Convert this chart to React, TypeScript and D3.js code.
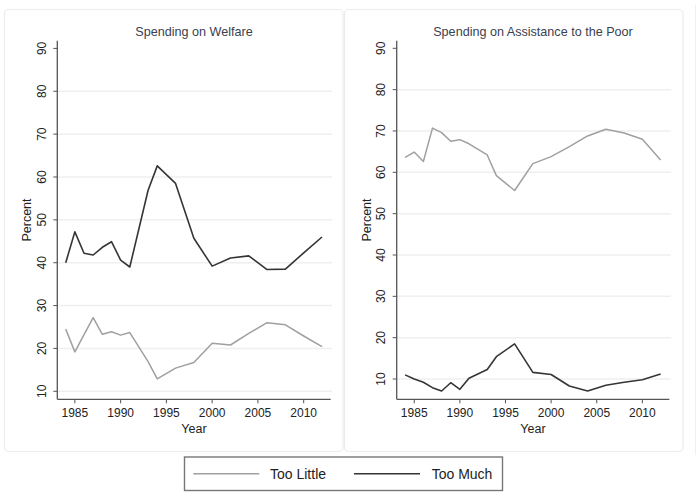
import React from "react";
import * as d3 from "d3";

const years = [1984, 1985, 1986, 1987, 1988, 1989, 1990, 1991, 1993, 1994, 1996, 1998, 2000, 2002, 2004, 2006, 2008, 2010, 2012];

const welfareTooLittle = [24.5, 19.2, 23.2, 27.2, 23.3, 23.9, 23.1, 23.7, 16.9, 12.9, 15.4, 16.7, 21.2, 20.8, 23.5, 26.0, 25.5, 22.9, 20.4];
const welfareTooMuch = [40.0, 47.2, 42.2, 41.8, 43.6, 44.9, 40.6, 39.0, 56.9, 62.6, 58.5, 45.7, 39.2, 41.1, 41.6, 38.4, 38.5, 42.3, 46.0];

const poorTooLittle = [63.6, 64.9, 62.6, 70.7, 69.6, 67.5, 67.9, 66.9, 64.2, 59.2, 55.6, 62.1, 63.8, 66.2, 68.8, 70.4, 69.5, 68.0, 63.0];
const poorTooMuch = [11.0, 10.0, 9.2, 7.9, 7.1, 9.1, 7.5, 10.2, 12.3, 15.4, 18.5, 11.6, 11.1, 8.3, 7.1, 8.5, 9.2, 9.8, 11.2];

const yTicks = [10, 20, 30, 40, 50, 60, 70, 80, 90];
const gridTicks = [10, 20, 30, 40, 50, 60, 70, 80];
const xTicks = [1985, 1990, 1995, 2000, 2005, 2010];
const legendLabels = ["Too Little", "Too Much"];
const titles = ["Spending on Welfare", "Spending on Assistance to the Poor"];

const LIGHT = "#a0a0a0";
const DARK = "#353535";
const FONT = "'Liberation Sans', Arial, Helvetica, sans-serif";

type PanelProps = {
  title: string;
  x0: number;
  x1: number;
  yDomain: [number, number];
  little: number[];
  much: number[];
  frameX: number;
};

function Panel({ title, x0, x1, yDomain, little, much, frameX }: PanelProps) {
  const x = d3.scaleLinear().domain([1983.08, 2012.95]).range([x0, x1]);
  const y = d3.scaleLinear().domain(yDomain).range([399.3, 40.7]);
  const line = d3
    .line<number>()
    .x((_, i) => x(years[i]))
    .y((d) => y(d));
  const [ya, yb] = y.range();
  const mid = (x0 + x1) / 2;
  return (
    <g>
      <rect x={frameX} y={9.5} width={338.5} height={442} rx={4} fill="#ffffff" stroke="#ececec" strokeWidth={1.2} />
      {gridTicks.map((t) => (
        <line key={"g" + t} x1={x0} x2={x1 + 1.5} y1={y(t)} y2={y(t)} stroke="#efefef" strokeWidth={1.5} />
      ))}
      <text x={mid} y={31.7} textAnchor="middle" dominantBaseline="central" fontFamily={FONT} fontSize={12.6} fill="#3a4150">
        {title}
      </text>
      {/* y axis */}
      <line x1={x0} x2={x0} y1={ya} y2={yb} stroke="#555" strokeWidth={1.3} />
      {yTicks.map((t) => (
        <g key={"y" + t}>
          <line x1={x0 - 4} x2={x0} y1={y(t)} y2={y(t)} stroke="#555" strokeWidth={1} />
          <text
            transform={`translate(${x0 - 15.5},${y(t)}) rotate(-90)`}
            textAnchor="middle"
            dominantBaseline="central"
            fontFamily={FONT}
            fontSize={12}
            fill="#222"
          >
            {t}
          </text>
        </g>
      ))}
      <text
        transform={`translate(${x0 - 30},${(ya + yb) / 2}) rotate(-90)`}
        textAnchor="middle"
        dominantBaseline="central"
        fontFamily={FONT}
        fontSize={12.5}
        fill="#222"
      >
        Percent
      </text>
      {/* x axis */}
      <line x1={x0} x2={x1} y1={ya} y2={ya} stroke="#555" strokeWidth={1.3} />
      {xTicks.map((t) => (
        <g key={"x" + t}>
          <line x1={x(t)} x2={x(t)} y1={ya} y2={ya + 4} stroke="#555" strokeWidth={1} />
          <text x={x(t)} y={413} textAnchor="middle" dominantBaseline="central" fontFamily={FONT} fontSize={12} fill="#222">
            {t}
          </text>
        </g>
      ))}
      <text x={mid} y={429} textAnchor="middle" dominantBaseline="central" fontFamily={FONT} fontSize={12.5} fill="#222">
        Year
      </text>
      <path d={line(little) || ""} fill="none" stroke={LIGHT} strokeWidth={1.5} strokeLinejoin="round" />
      <path d={line(much) || ""} fill="none" stroke={DARK} strokeWidth={1.6} strokeLinejoin="round" />
    </g>
  );
}

export default function App() {
  return (
    <svg
      width={699}
      height={498}
      style={{ position: "absolute", left: 0, top: 0, background: "#fff" }}
    >
      <rect x={0} y={0} width={699} height={498} fill="#fff" />
      <Panel title={titles[0]} x0={57.3} x1={330.7} yDomain={[8.13, 91.8]} little={welfareTooLittle} much={welfareTooMuch} frameX={4.5} />
      <Panel title={titles[1]} x0={396.7} x1={669.3} yDomain={[5.09, 91.84]} little={poorTooLittle} much={poorTooMuch} frameX={344.5} />
      <line x1={695.5} x2={695.5} y1={5} y2={455} stroke="#f0f0f0" strokeWidth={1} />
      {/* legend */}
      <rect x={184.5} y={457} width={318} height={33.5} fill="#fff" stroke="#777" strokeWidth={1.4} />
      <line x1={193.3} x2={259.3} y1={473.7} y2={473.7} stroke={LIGHT} strokeWidth={1.5} />
      <text x={270} y={473.7} dominantBaseline="central" fontFamily={FONT} fontSize={14} fill="#222">
        {legendLabels[0]}
      </text>
      <line x1={354} x2={420} y1={473.7} y2={473.7} stroke={DARK} strokeWidth={1.6} />
      <text x={431.7} y={473.7} dominantBaseline="central" fontFamily={FONT} fontSize={14} fill="#222">
        {legendLabels[1]}
      </text>
    </svg>
  );
}
